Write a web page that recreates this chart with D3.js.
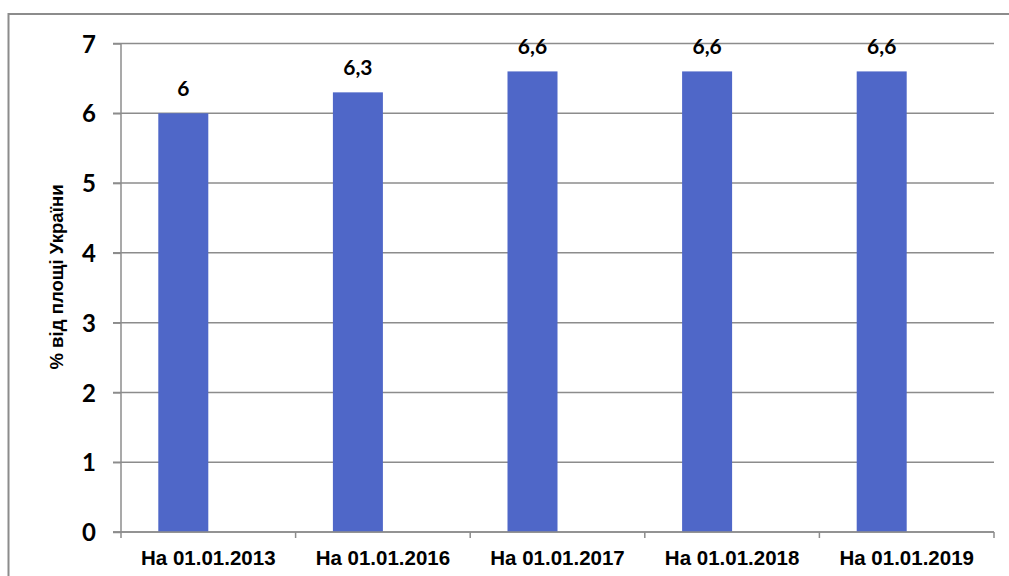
<!DOCTYPE html>
<meta charset="utf-8">
<style>
  body { margin: 0; overflow: hidden; background: #fff; }
  .grid line { stroke: #8c8c8c; stroke-width: 1.5; }
  .axis path, .axis line { stroke: #8c8c8c; stroke-width: 1.5; }
  .ytick text { font-family: Lato, sans-serif; font-weight: bold; font-size: 24px; fill: #000; }
  .xlabel { font-family: "Liberation Sans", Arial, sans-serif; font-weight: bold; font-size: 20.5px; fill: #000; }
  .vlabel { font-family: Lato, sans-serif; font-weight: bold; font-size: 21px; fill: #000; }
  .title { font-family: "Liberation Sans", Arial, sans-serif; font-weight: bold; font-size: 18.6px; fill: #000; }
</style>
<body>
</body>
<script src="https://cdn.jsdelivr.net/npm/d3@7"></script>
<script>

var categories = ["На 01.01.2013", "На 01.01.2016", "На 01.01.2017", "На 01.01.2018", "На 01.01.2019"];
var values = [6, 6.3, 6.6, 6.6, 6.6];
var valueLabels = ["6", "6,3", "6,6", "6,6", "6,6"];
var yTicks = [0, 1, 2, 3, 4, 5, 6, 7];
var yTitle = "% від площі України";

var width = 1009,
    height = 576,
    plotLeft = 121, plotRight = 994,
    plotTop = 43.5, plotBottom = 532;

var svg = d3.select("body").append("svg")
    .attr("width", width)
    .attr("height", height);

// outer chart frame (cropped at right/bottom)
svg.append("rect")
    .attr("x", 8.5)
    .attr("y", 14)
    .attr("width", width + 20)
    .attr("height", height + 20)
    .style("fill", "none")
    .style("stroke", "#8c8c8c")
    .style("stroke-width", 2);

var x0 = d3.scaleBand()
    .domain(categories)
    .range([plotLeft, plotRight])
    .padding(0);

// second (empty) series slot, like the excel cluster
var x1 = d3.scaleBand()
    .domain(["value", "empty"])
    .range([0, x0.bandwidth()])
    .paddingInner(0)
    .paddingOuter(0.746);

var y = d3.scaleLinear()
    .domain([0, 7])
    .range([plotBottom, plotTop]);

svg.append("g")
    .attr("class", "grid")
  .selectAll("line")
    .data(yTicks)
  .enter().append("line")
    .attr("x1", plotLeft - 8)
    .attr("x2", plotRight)
    .attr("y1", d => y(d))
    .attr("y2", d => y(d));

svg.append("g")
    .attr("class", "bars")
  .selectAll("rect")
    .data(values)
  .enter().append("rect")
    .attr("x", (d, i) => x0(categories[i]) + x1("value"))
    .attr("width", x1.bandwidth())
    .attr("y", d => y(d))
    .attr("height", d => y(0) - y(d))
    .style("fill", "#4f67c8");

svg.append("g")
  .selectAll("text")
    .data(values)
  .enter().append("text")
    .attr("class", "vlabel")
    .attr("x", (d, i) => x0(categories[i]) + x1("value") + x1.bandwidth() / 2)
    .attr("y", d => y(d) - 17)
    .attr("text-anchor", "middle")
    .text((d, i) => valueLabels[i]);

// y axis
var yAxis = svg.append("g")
    .attr("class", "axis ytick")
    .attr("transform", `translate(${plotLeft},0)`)
    .call(d3.axisLeft(y).tickValues(yTicks).tickSize(8).tickPadding(17).tickFormat(d3.format("d")));
yAxis.select(".domain").attr("d", `M0,${plotTop}V${plotBottom}`);
yAxis.selectAll("text").attr("dy", "0.36em");

// x axis
var xAxis = svg.append("g")
    .attr("class", "axis")
    .attr("transform", `translate(0,${plotBottom})`);
xAxis.append("line")
    .attr("x1", plotLeft - 8)
    .attr("x2", plotRight);
xAxis.selectAll(".tick")
    .data(categories.map(c => x0(c)).concat([plotRight]))
  .enter().append("line")
    .attr("class", "tick")
    .attr("x1", d => d)
    .attr("x2", d => d)
    .attr("y1", 0)
    .attr("y2", 6);
xAxis.selectAll(".xlabel")
    .data(categories)
  .enter().append("text")
    .attr("class", "xlabel")
    .attr("x", d => x0(d) + x0.bandwidth() / 2)
    .attr("y", 33)
    .attr("text-anchor", "middle")
    .text(d => d);

svg.append("text")
    .attr("class", "title")
    .attr("transform", "translate(63,277) rotate(-90)")
    .attr("text-anchor", "middle")
    .text(yTitle);

</script>
